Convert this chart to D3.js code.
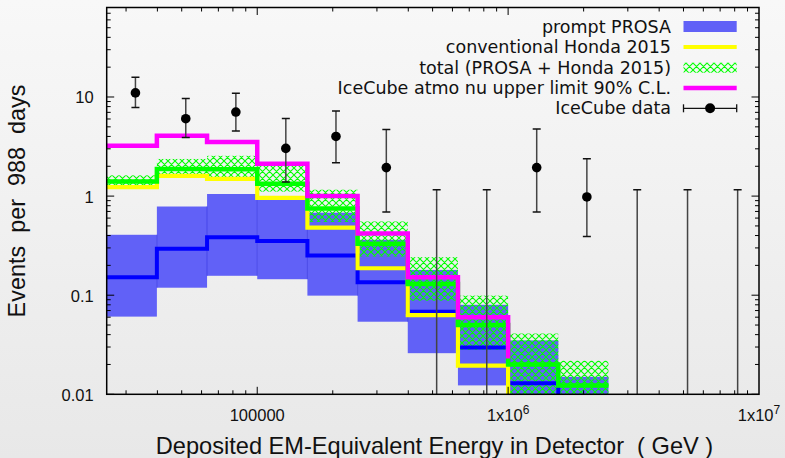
<!DOCTYPE html>
<html><head><meta charset="utf-8">
<script src="https://cdn.jsdelivr.net/npm/d3@7"></script>
<style>
html,body{margin:0;padding:0;}
body{width:785px;height:458px;overflow:hidden;}
svg{display:block;}
</style></head>
<body>
<svg id="chart" width="785" height="458"></svg>
<script>
// ---------- data ----------
const binEdges = [25119, 39811, 63096, 100000, 158489, 251189, 398107, 630957, 1000000, 1584893, 2511886];
const promptMid = [0.152, 0.294, 0.385, 0.353, 0.251, 0.135, 0.068, 0.0297, 0.0129, 0.006];
const promptLo  = [0.0608, 0.119, 0.157, 0.145, 0.099, 0.054, 0.026, 0.0123, 0.005, 0.005];
const promptHi  = [0.407, 0.785, 1.05, 0.917, 0.68, 0.362, 0.18, 0.080, 0.035, 0.015];
const convHonda = [1.23, 1.60, 1.49, 0.96, 0.48, 0.187, 0.063, 0.0195, 0.005];
const totalMid  = [1.40, 1.88, 1.87, 1.33, 0.75, 0.33, 0.13, 0.05, 0.020, 0.0123];
const totalLo   = [1.24, 1.55, 1.50, 1.11, 0.55, 0.246, 0.088, 0.028, 0.005, 0.005];
const totalHi   = [1.62, 2.37, 2.55, 2.18, 1.16, 0.554, 0.242, 0.099, 0.041, 0.0218];
const upperLimit = [3.22, 4.07, 3.52, 2.12, 1.0, 0.42, 0.152, 0.06];
const upperLimitEnd = 0.023;
const dataE   = [32700, 51900, 82200, 130000, 206000, 327000, 519000, 822000, 1300000, 2060000, 3270000, 5190000, 8220000];
const dataVal = [11.0, 6.04, 7.05, 3.03, 4.0, 1.94, 0, 0, 1.94, 0.98, 0, 0, 0];
const dataHi  = [15.8, 9.68, 10.9, 6.08, 7.22, 4.71, 1.16, 1.16, 4.75, 2.38, 1.16, 1.16, 1.16];
const dataLo  = [7.85, 3.91, 4.54, 1.39, 2.17, 0.69, 0, 0, 0.69, 0.39, 0, 0, 0];
const yTicks = [0.01, 0.1, 1, 10];
const yTickLabels = ["0.01", "0.1", "1", "10"];
const xTicks = [1e5, 1e6, 1e7];
const xTickLabels = [["100000", ""], ["1x10", "6"], ["1x10", "7"]];
const legendLabels = ["prompt PROSA", "conventional Honda 2015", "total (PROSA + Honda 2015)", "IceCube atmo nu upper limit 90% C.L.", "IceCube data"];

// ---------- layout ----------
const W = 785, H = 458;
const L = 106.7, R = 759, T = 7.5, B = 394.3;
const svg = d3.select("#chart");
const x = d3.scaleLog().domain([binEdges[0], 1e7]).range([L, R]);
const y = d3.scaleLog().domain([0.01, 80]).range([B, T]).clamp(false);
const yc = v => v <= 0 ? B + 20 : y(v);

const defs = svg.append("defs");
const grad = defs.append("linearGradient").attr("id", "bg").attr("x1", 0).attr("y1", 0).attr("x2", 0).attr("y2", 1);
grad.append("stop").attr("offset", "0%").attr("stop-color", "#f8f8f8");
grad.append("stop").attr("offset", "100%").attr("stop-color", "#e8e8e8");
const pat = defs.append("pattern").attr("id", "hatch").attr("patternUnits", "userSpaceOnUse")
  .attr("width", 7).attr("height", 7);
pat.append("path").attr("d", "M0,0L7,7M7,0L0,7M-1,6L1,8M6,-1L8,1")
  .attr("stroke", "#00ff00").attr("stroke-width", 1.1).attr("fill", "none");
defs.append("clipPath").attr("id", "clip").append("rect")
  .attr("x", L).attr("y", T).attr("width", R - L).attr("height", B - T);

svg.append("rect").attr("width", W).attr("height", H).attr("fill", "url(#bg)");

const plot = svg.append("g").attr("clip-path", "url(#clip)");

// prompt band
const nb = promptHi.length;
plot.selectAll("rect.band").data(d3.range(nb)).join("rect").attr("class", "band")
  .attr("x", i => x(binEdges[i])).attr("width", i => x(binEdges[i + 1]) - x(binEdges[i]))
  .attr("y", i => y(promptHi[i])).attr("height", i => y(promptLo[i]) - y(promptHi[i]))
  .attr("fill", "#6161f7");
// seams
plot.selectAll("line.seam").data(d3.range(1, nb)).join("line").attr("class", "seam")
  .attr("x1", i => x(binEdges[i])).attr("x2", i => x(binEdges[i]))
  .attr("y1", i => y(Math.min(promptHi[i], promptHi[i - 1])))
  .attr("y2", i => y(Math.max(promptLo[i], promptLo[i - 1])))
  .attr("stroke", "#3c3ce6").attr("stroke-width", 0.8);

// total hatch band
plot.selectAll("rect.hatch").data(d3.range(totalHi.length)).join("rect").attr("class", "hatch")
  .attr("x", i => x(binEdges[i])).attr("width", i => x(binEdges[i + 1]) - x(binEdges[i]))
  .attr("y", i => y(totalHi[i])).attr("height", i => y(totalLo[i]) - y(totalHi[i]))
  .attr("fill", "url(#hatch)");

function stepPath(vals, endVal) {
  let p = d3.path();
  p.moveTo(x(binEdges[0]), y(vals[0]));
  vals.forEach((v, i) => {
    if (i > 0) p.lineTo(x(binEdges[i]), y(v));
    p.lineTo(x(binEdges[i + 1]), y(v));
  });
  if (endVal !== undefined) p.lineTo(x(binEdges[vals.length]), y(endVal));
  return p.toString();
}
function drawStep(vals, color, w, endVal) {
  plot.append("path").attr("d", stepPath(vals, endVal)).attr("fill", "none")
    .attr("stroke", color).attr("stroke-width", w).attr("stroke-linejoin", "miter");
}
drawStep(promptMid, "#0000ff", 4);
drawStep(convHonda, "#ffff00", 4.2);
drawStep(totalMid, "#00ff00", 4.5);
drawStep(upperLimit, "#ff00ff", 4.5, upperLimitEnd);

// data points
const dg = svg.append("g").attr("clip-path", "url(#clip)");
dataE.forEach((e, i) => {
  const cx = x(e);
  dg.append("line").attr("x1", cx).attr("x2", cx).attr("y1", y(dataHi[i])).attr("y2", yc(dataLo[i]))
    .attr("stroke", "#444").attr("stroke-width", 1.5);
  dg.append("line").attr("x1", cx - 4).attr("x2", cx + 4).attr("y1", y(dataHi[i])).attr("y2", y(dataHi[i]))
    .attr("stroke", "#111").attr("stroke-width", 1.5);
  if (dataLo[i] > 0) dg.append("line").attr("x1", cx - 4).attr("x2", cx + 4).attr("y1", y(dataLo[i])).attr("y2", y(dataLo[i]))
    .attr("stroke", "#111").attr("stroke-width", 1.5);
  if (dataVal[i] > 0) dg.append("circle").attr("cx", cx).attr("cy", y(dataVal[i])).attr("r", 4.8).attr("fill", "#000");
});

// axes
const ax = svg.append("g");
const xMinor = [], yMinor = [];
for (let d = 4; d < 7; d++) for (let k = 1; k < 10; k++) { const v = k * 10 ** d; if (v >= binEdges[0] && v <= 1e7) xMinor.push(v); }
for (let d = -2; d < 2; d++) for (let k = 1; k < 10; k++) { const v = k * 10 ** d; if (v <= 80) yMinor.push(v); }
const isMajor = v => Math.abs(Math.log10(v) - Math.round(Math.log10(v))) < 1e-6;
xMinor.forEach(v => {
  const len = isMajor(v) ? 7.5 : 4;
  const px = x(v);
  ax.append("line").attr("x1", px).attr("x2", px).attr("y1", B).attr("y2", B - len).attr("stroke", "#000").attr("stroke-width", 1);
  ax.append("line").attr("x1", px).attr("x2", px).attr("y1", T).attr("y2", T + len).attr("stroke", "#000").attr("stroke-width", 1);
});
yMinor.forEach(v => {
  const len = isMajor(v) ? 7.5 : 4;
  const py = y(v);
  ax.append("line").attr("x1", L).attr("x2", L + len).attr("y1", py).attr("y2", py).attr("stroke", "#000").attr("stroke-width", 1);
  ax.append("line").attr("x1", R).attr("x2", R - len).attr("y1", py).attr("y2", py).attr("stroke", "#000").attr("stroke-width", 1);
});
ax.append("rect").attr("x", L).attr("y", T).attr("width", R - L).attr("height", B - T)
  .attr("fill", "none").attr("stroke", "#000").attr("stroke-width", 1.5);

const tickFont = "'Liberation Sans', Arial, sans-serif";
yTicks.forEach((v, i) => {
  ax.append("text").attr("x", L - 13).attr("y", y(v) + 6.5).attr("text-anchor", "end")
    .attr("font-family", tickFont).attr("font-size", 16.5).attr("fill", "#111").text(yTickLabels[i]);
});
xTicks.forEach((v, i) => {
  const t = ax.append("text").attr("x", x(v)).attr("y", 420.5).attr("text-anchor", "middle")
    .attr("font-family", tickFont).attr("font-size", 16.5).attr("fill", "#111");
  t.append("tspan").text(xTickLabels[i][0]);
  if (xTickLabels[i][1]) t.append("tspan").attr("dy", -7).attr("font-size", 12).text(xTickLabels[i][1]);
});

svg.append("text").attr("x", 434.5).attr("y", 453.5).attr("text-anchor", "middle")
  .attr("font-family", tickFont).attr("font-size", 23.6).attr("fill", "#111")
  .style("white-space", "pre")
  .text("Deposited EM-Equivalent Energy in Detector  ( GeV )");
svg.append("text").attr("transform", "translate(25,201) rotate(-90)").attr("text-anchor", "middle")
  .attr("font-family", tickFont).attr("font-size", 23.4).attr("fill", "#111")
  .style("white-space", "pre").text("Events  per  988  days");

// legend
const lg = svg.append("g");
const rowY = [26.5, 47, 67.7, 88, 108.3];
const sx0 = 683.5, sx1 = 736.7;
legendLabels.forEach((s, i) => {
  lg.append("text").attr("x", 671).attr("y", rowY[i] + 6).attr("text-anchor", "end")
    .attr("font-family", "'DejaVu Sans', sans-serif").attr("font-size", 17.5).attr("fill", "#111").text(s);
});
lg.append("rect").attr("x", sx0).attr("y", rowY[0] - 5.5).attr("width", sx1 - sx0).attr("height", 11).attr("fill", "#6161f7");
lg.append("line").attr("x1", sx0).attr("x2", sx1).attr("y1", rowY[1]).attr("y2", rowY[1]).attr("stroke", "#ffff00").attr("stroke-width", 4.2);
lg.append("rect").attr("x", sx0).attr("y", rowY[2] - 5).attr("width", sx1 - sx0).attr("height", 10).attr("fill", "url(#hatch)");
lg.append("line").attr("x1", sx0).attr("x2", sx1).attr("y1", rowY[3]).attr("y2", rowY[3]).attr("stroke", "#ff00ff").attr("stroke-width", 4.5);
lg.append("line").attr("x1", sx0).attr("x2", sx1).attr("y1", rowY[4]).attr("y2", rowY[4]).attr("stroke", "#111").attr("stroke-width", 1.3);
[sx0, sx1].forEach(xx => lg.append("line").attr("x1", xx).attr("x2", xx).attr("y1", rowY[4] - 4).attr("y2", rowY[4] + 4).attr("stroke", "#111").attr("stroke-width", 1.3));
lg.append("circle").attr("cx", (sx0 + sx1) / 2).attr("cy", rowY[4]).attr("r", 5).attr("fill", "#000");
</script>
</body></html>
